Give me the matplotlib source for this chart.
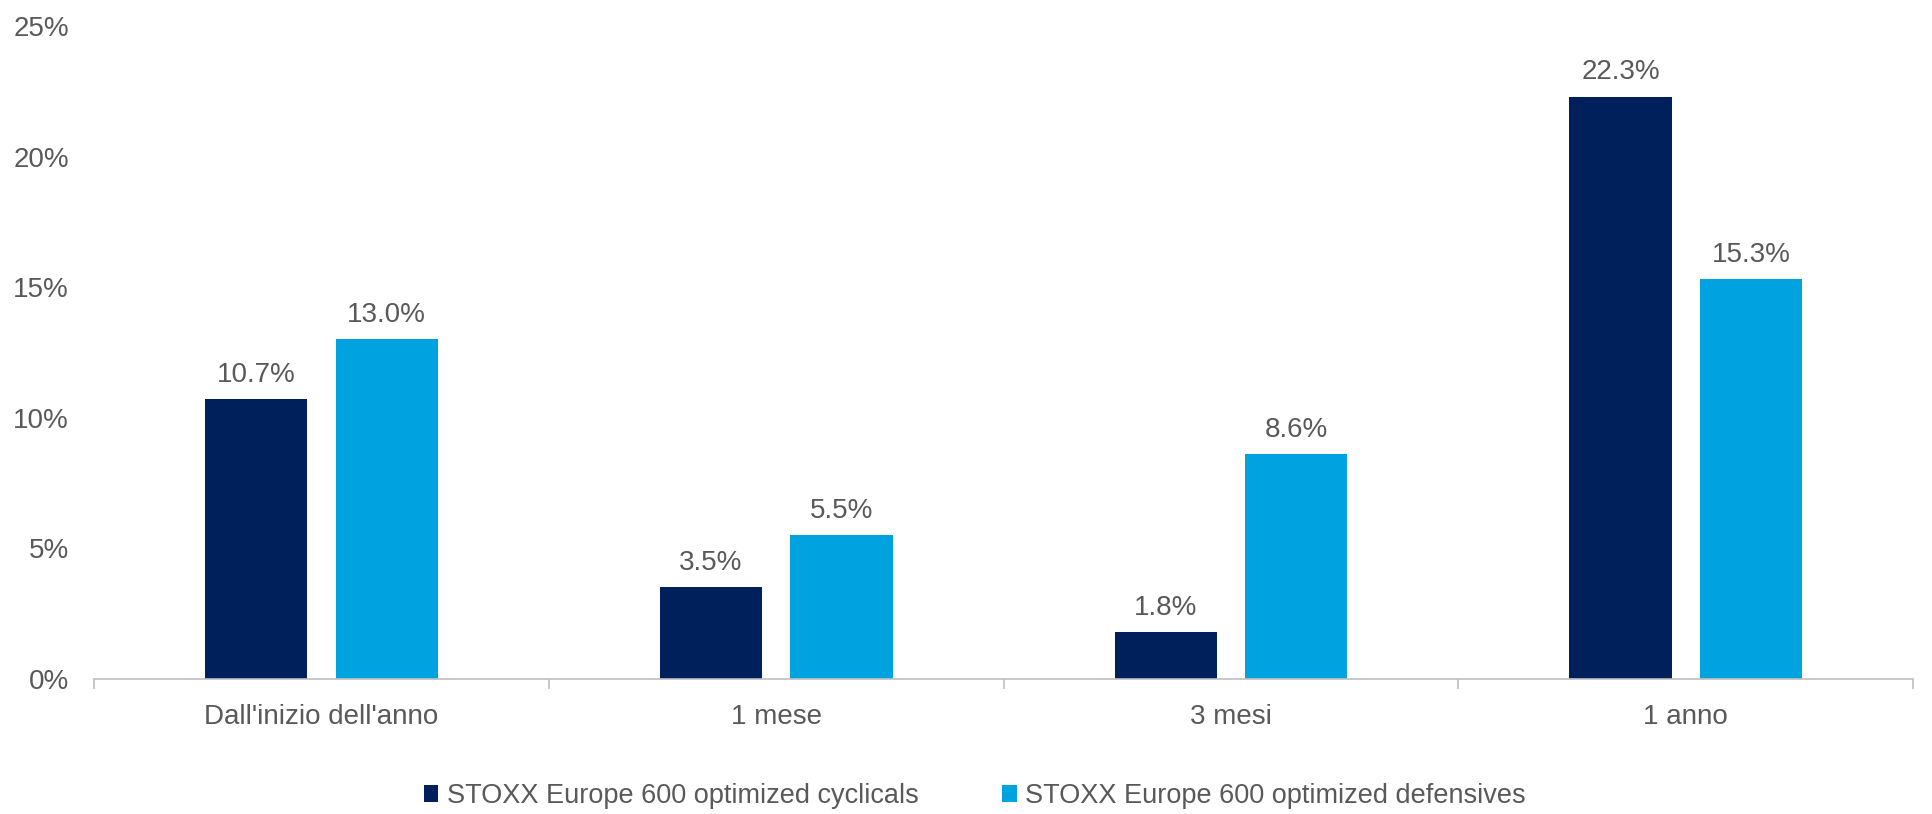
import numpy as np
import matplotlib
matplotlib.use("Agg")
from matplotlib import pyplot as plt
from matplotlib.ticker import FixedLocator, PercentFormatter

categorie = ["Dall'inizio dell'anno", "1 mese", "3 mesi", "1 anno"]
ciclici = [10.7, 3.5, 1.8, 22.3]
difensivi = [13.0, 5.5, 8.6, 15.3]
serie = ["STOXX Europe 600 optimized cyclicals",
         "STOXX Europe 600 optimized defensives"]

colore_ciclici = "#00205B"
colore_difensivi = "#00A3E0"
grigio_testo = "#595959"
dim = 20

plt.rcParams['font.family'] = ['Liberation Sans', 'DejaVu Sans']

fig = plt.figure(figsize=(19.32, 8.14), dpi=100)
ax = fig.add_axes([0.0487, 0.166, 0.9415, 0.802])

x = np.arange(len(categorie))
larghezza = 0.225
scarto = 0.1435

barre1 = ax.bar(x - scarto, ciclici, larghezza, color=colore_ciclici, label=serie[0])
barre2 = ax.bar(x + scarto, difensivi, larghezza, color=colore_difensivi, label=serie[1])

# etichette con il valore sopra ogni barra
for barre, valori in [(barre1, ciclici), (barre2, difensivi)]:
    for b, v in zip(barre, valori):
        ax.annotate(f"{v:.1f}%", (b.get_x() + b.get_width() / 2, v),
                    xytext=(0, 8), textcoords="offset points",
                    ha="center", va="bottom", fontsize=dim, color=grigio_testo)

ax.set_xlim(-0.5, len(categorie) - 0.5)
ax.set_ylim(0, 25)
ax.yaxis.set_major_locator(FixedLocator([0, 5, 10, 15, 20, 25]))
ax.yaxis.set_major_formatter(PercentFormatter(decimals=0))

ax.set_xticks(x)
ax.set_xticklabels(categorie)
ax.xaxis.set_minor_locator(FixedLocator(np.arange(len(categorie) + 1) - 0.5))
ax.tick_params(axis="x", which="major", length=0, pad=18, labelsize=dim, labelcolor=grigio_testo)
ax.tick_params(axis="x", which="minor", length=7, width=1.2, color="#BFBFBF", direction="out")
ax.tick_params(axis="y", length=0, pad=18, labelsize=dim, labelcolor=grigio_testo)

for lato in ["top", "right", "left"]:
    ax.spines[lato].set_visible(False)
ax.spines["bottom"].set_color("#BFBFBF")
ax.spines["bottom"].set_linewidth(1.2)

fig.legend(loc="center", bbox_to_anchor=(0.5045, 0.022), ncol=2, frameon=False,
           fontsize=19.5, labelcolor=grigio_testo, handlelength=0.55, handleheight=0.6,
           handletextpad=0.3, columnspacing=3.1)

fig.savefig("out.png", dpi=100)
